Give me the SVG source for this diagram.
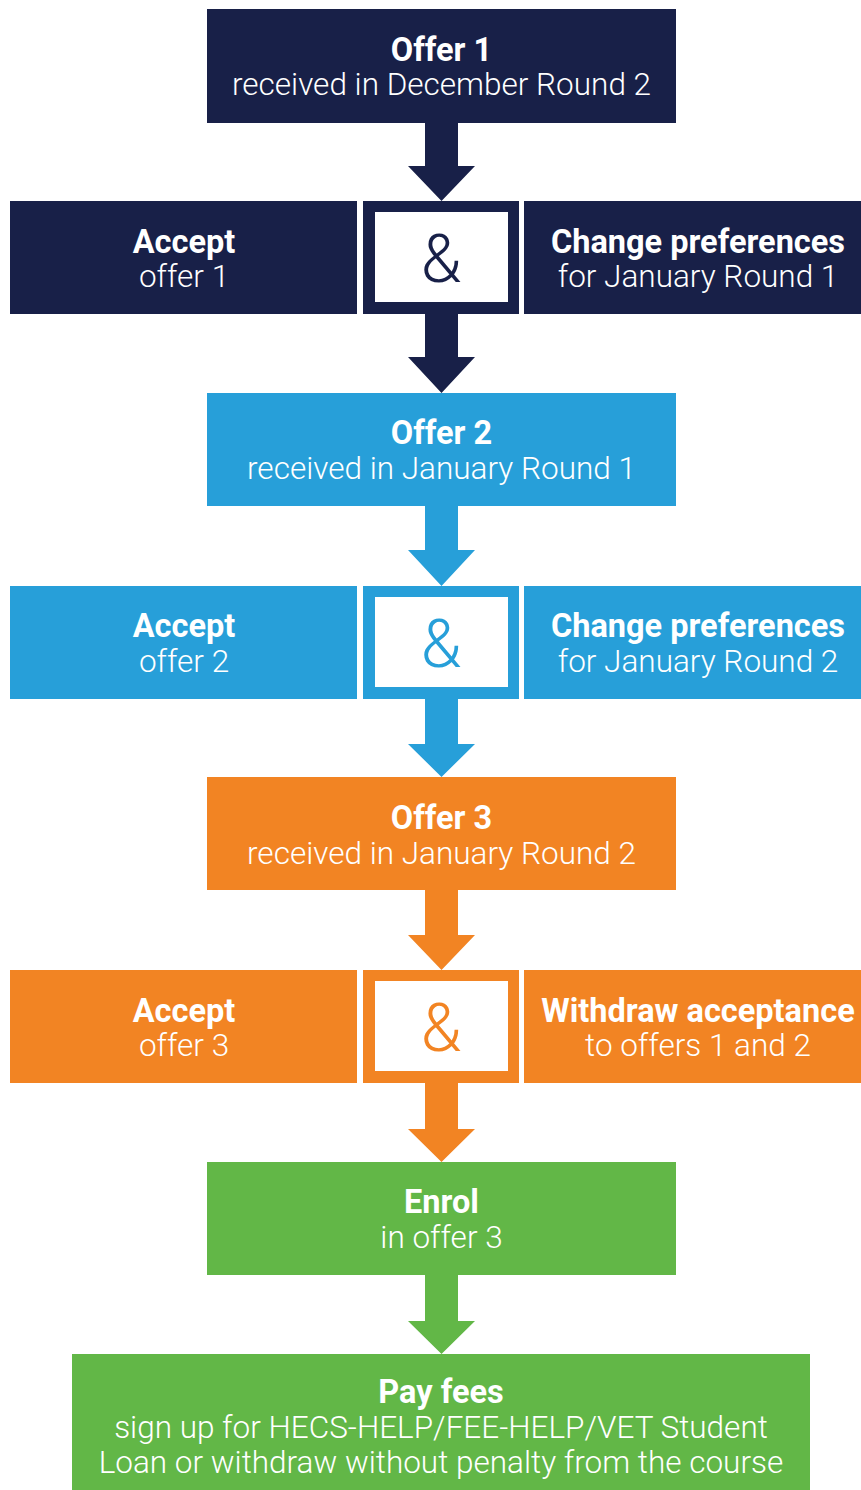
<svg xmlns="http://www.w3.org/2000/svg" width="861" height="1490" viewBox="0 0 861 1490">
<style>
.t{font-family:Roboto,"Liberation Sans",sans-serif;fill:#fff;text-anchor:middle}
.b{font-weight:700;font-size:32.5px}
.l{font-weight:300;font-size:31.5px}
.amp{font-family:Roboto,"Liberation Sans",sans-serif;font-size:66px;font-weight:300;text-anchor:middle}
.navy{fill:#182048}.blue{fill:#279fd9}.orange{fill:#f28423}.green{fill:#62b747}
</style>
<rect width="861" height="1490" fill="#fff"/>
<g id="connectors">
<path class="navy" d="M425 123H458V166H475L441.5 201L408 166H425Z"/>
<path class="navy" d="M425 314H458V357H475L441.5 393L408 357H425Z"/>
<path class="blue" d="M425 506H458V550H475L441.5 586L408 550H425Z"/>
<path class="blue" d="M425 699H458V744H475L441.5 777L408 744H425Z"/>
<path class="orange" d="M425 890H458V935H475L441.5 970L408 935H425Z"/>
<path class="orange" d="M425 1083H458V1129H475L441.5 1162L408 1129H425Z"/>
<path class="green" d="M425 1275H458V1321H475L441.5 1354L408 1321H425Z"/>
</g>
<g id="offer1"><rect class="navy" x="207" y="9" width="469" height="114"/>
<text class="t b" x="441.5" y="61">Offer 1</text><text class="t l" x="441.5" y="95">received in December Round 2</text></g>
<g id="accept1"><rect class="navy" x="10" y="201" width="347" height="113"/>
<text class="t b" x="184" y="253">Accept</text><text class="t l" x="184" y="287">offer 1</text></g>
<g id="and1"><rect class="navy" x="363" y="201" width="156" height="113"/><rect fill="#fff" x="375" y="212" width="133" height="90"/>
<text class="amp navy" x="441" y="282">&amp;</text></g>
<g id="change1"><rect class="navy" x="524" y="201" width="337" height="113"/>
<text class="t b" x="698" y="253">Change preferences</text><text class="t l" x="698" y="287">for January Round 1</text></g>
<g id="offer2"><rect class="blue" x="207" y="393" width="469" height="113"/>
<text class="t b" x="441.5" y="444">Offer 2</text><text class="t l" x="441.5" y="479">received in January Round 1</text></g>
<g id="accept2"><rect class="blue" x="10" y="586" width="347" height="113"/>
<text class="t b" x="184" y="637">Accept</text><text class="t l" x="184" y="672">offer 2</text></g>
<g id="and2"><rect class="blue" x="363" y="586" width="156" height="113"/><rect fill="#fff" x="375" y="597" width="133" height="90"/>
<text class="amp blue" x="441" y="667">&amp;</text></g>
<g id="change2"><rect class="blue" x="524" y="586" width="337" height="113"/>
<text class="t b" x="698" y="637">Change preferences</text><text class="t l" x="698" y="672">for January Round 2</text></g>
<g id="offer3"><rect class="orange" x="207" y="777" width="469" height="113"/>
<text class="t b" x="441.5" y="829">Offer 3</text><text class="t l" x="441.5" y="864">received in January Round 2</text></g>
<g id="accept3"><rect class="orange" x="10" y="970" width="347" height="113"/>
<text class="t b" x="184" y="1022">Accept</text><text class="t l" x="184" y="1056">offer 3</text></g>
<g id="and3"><rect class="orange" x="363" y="970" width="156" height="113"/><rect fill="#fff" x="375" y="981" width="133" height="90"/>
<text class="amp orange" x="441" y="1051">&amp;</text></g>
<g id="withdraw"><rect class="orange" x="524" y="970" width="337" height="113"/>
<text class="t b" x="698" y="1022">Withdraw acceptance</text><text class="t l" x="698" y="1056">to offers 1 and 2</text></g>
<g id="enrol"><rect class="green" x="207" y="1162" width="469" height="113"/>
<text class="t b" x="441.5" y="1213">Enrol</text><text class="t l" x="441.5" y="1248">in offer 3</text></g>
<g id="payfees"><rect class="green" x="72" y="1354" width="738" height="136"/>
<text class="t b" x="441" y="1403">Pay fees</text><text class="t l" x="441" y="1438">sign up for HECS-HELP/FEE-HELP/VET Student</text><text class="t l" x="441" y="1473">Loan or withdraw without penalty from the course</text></g>
</svg>
